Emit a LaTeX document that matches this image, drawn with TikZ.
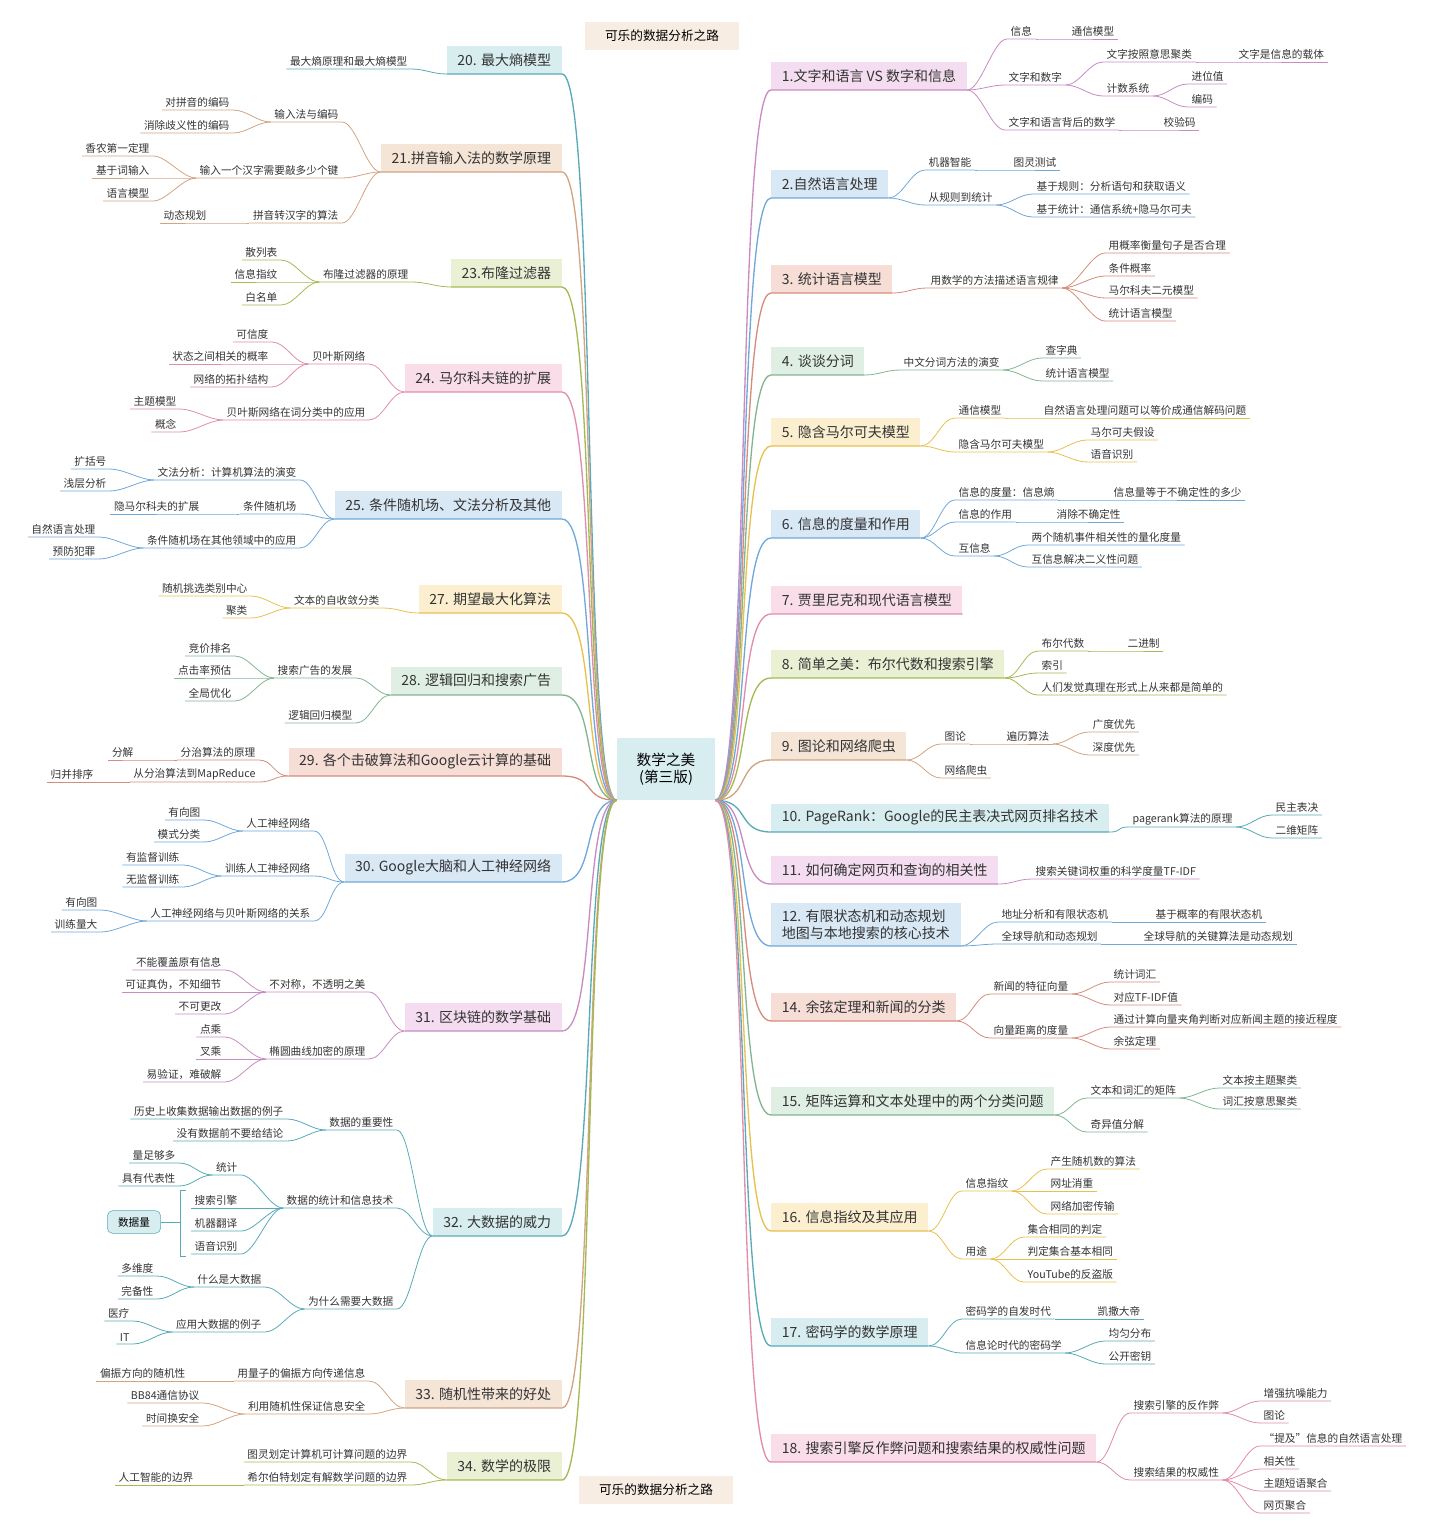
\documentclass[tikz,border=0pt]{standalone}
\usepackage{fontspec}
\setmainfont{Noto Sans CJK SC}
\definecolor{pkL}{HTML}{C98BC2}\definecolor{pkF}{HTML}{F4DDF0}
\definecolor{blL}{HTML}{6FA8D9}\definecolor{blF}{HTML}{D9E8F5}
\definecolor{saL}{HTML}{D58C7C}\definecolor{saF}{HTML}{F6DDD6}
\definecolor{grL}{HTML}{82B592}\definecolor{grF}{HTML}{E0EFE4}
\definecolor{yeL}{HTML}{E8C04E}\definecolor{yeF}{HTML}{FCEFD0}
\definecolor{piL}{HTML}{E08CAD}\definecolor{piF}{HTML}{F9DDE8}
\definecolor{olL}{HTML}{A3BA52}\definecolor{olF}{HTML}{E9F0D4}
\definecolor{taL}{HTML}{D2A482}\definecolor{taF}{HTML}{F4E5D7}
\definecolor{teL}{HTML}{58AAB9}\definecolor{teF}{HTML}{D7EDF0}

\tikzstyle{leaf} = [inner xsep=2.5pt, inner ysep=1.5pt, text=black!80
                   , font=\fontsize{8}{9}\selectfont]
\tikzstyle{lr}   = [leaf, anchor=south west]
\tikzstyle{ll}   = [leaf, anchor=south east]
\tikzstyle{chap} = [inner xsep=8pt, minimum height=21pt, text=black!80
                   , font=\fontsize{10.5}{12.5}\selectfont]
\tikzstyle{chr}  = [chap, anchor=south west]
\tikzstyle{chl}  = [chap, anchor=south east]
\tikzstyle{con}  = [line width=0.6pt]

\newcommand\cR[3]{\draw[con,#3] (#1.south east) .. controls +(14,0) and +(-14,0) .. (#2.south west) -- (#2.south east);}
\newcommand\cL[3]{\draw[con,#3] (#1.south west) .. controls +(-14,0) and +(14,0) .. (#2.south east) -- (#2.south west);}
\newcommand\mR[2]{\draw[line width=1pt,#2] (Root.south east) .. controls +(35,0) and +(-35,0) .. (#1.south west) -- (#1.south east);}
\newcommand\mL[2]{\draw[line width=1pt,#2] (Root.south west) .. controls +(-35,0) and +(35,0) .. (#1.south east) -- (#1.south west);}

\begin{document}
\begin{tikzpicture}[x=0.75pt, y=-0.75pt]
\useasboundingbox (0,0) rectangle (1440,1531);

%% Root and titles
\node [fill=teF, minimum width=73.5pt, minimum height=46.5pt, align=center
      , font=\fontsize{11}{13}\selectfont] (Root) at (666,769) {数学之美\\(第三版)};
\node [fill=taF!70, minimum width=116pt, minimum height=21pt, font=\fontsize{9.5}{11}\selectfont] (Title-Top) at (662,36) {可乐的数据分析之路};
\node [fill=taF!70, minimum width=116pt, minimum height=21pt, font=\fontsize{9.5}{11}\selectfont] (Title-Bot) at (656,1490) {可乐的数据分析之路};

%% Right side chapters
\node [chr, fill=pkF] (Ch1) at (771,90) {1.文字和语言 VS 数字和信息};
\node [chr, fill=blF] (Ch2) at (771,198) {2.自然语言处理};
\node [chr, fill=saF] (Ch3) at (771,293) {3. 统计语言模型};
\node [chr, fill=grF] (Ch4) at (771,375) {4. 谈谈分词};
\node [chr, fill=yeF] (Ch5) at (771,446) {5. 隐含马尔可夫模型};
\node [chr, fill=blF] (Ch6) at (771,538) {6. 信息的度量和作用};
\node [chr, fill=piF] (Ch7) at (771,614) {7. 贾里尼克和现代语言模型};
\node [chr, fill=olF] (Ch8) at (771,678) {8. 简单之美：布尔代数和搜索引擎};
\node [chr, fill=taF] (Ch9) at (771,760) {9. 图论和网络爬虫};
\node [chr, fill=teF] (Ch10) at (771,832) {10. PageRank：Google的民主表决式网页排名技术};
\node [chr, fill=pkF] (Ch11) at (771,884) {11. 如何确定网页和查询的相关性};
\node [chr, fill=blF, align=left, minimum height=32pt] (Ch12) at (771,946) {12. 有限状态机和动态规划\\地图与本地搜索的核心技术};
\node [chr, fill=saF] (Ch14) at (771,1021) {14. 余弦定理和新闻的分类};
\node [chr, fill=grF] (Ch15) at (771,1115) {15. 矩阵运算和文本处理中的两个分类问题};
\node [chr, fill=yeF] (Ch16) at (771,1231) {16. 信息指纹及其应用};
\node [chr, fill=teF] (Ch17) at (771,1346) {17. 密码学的数学原理};
\node [chr, fill=piF] (Ch18) at (771,1462) {18. 搜索引擎反作弊问题和搜索结果的权威性问题};

%% Left side chapters
\node [chl, fill=teF] (Ch20) at (562,74) {20. 最大熵模型};
\node [chl, fill=taF] (Ch21) at (562,172) {21.拼音输入法的数学原理};
\node [chl, fill=olF] (Ch23) at (562,287) {23.布隆过滤器};
\node [chl, fill=piF] (Ch24) at (562,392) {24. 马尔科夫链的扩展};
\node [chl, fill=blF] (Ch25) at (562,519) {25. 条件随机场、文法分析及其他};
\node [chl, fill=yeF] (Ch27) at (562,613) {27. 期望最大化算法};
\node [chl, fill=grF] (Ch28) at (562,695) {28. 逻辑回归和搜索广告};
\node [chl, fill=saF] (Ch29) at (562,776) {29. 各个击破算法和Google云计算的基础};
\node [chl, fill=blF] (Ch30) at (562,882) {30. Google大脑和人工神经网络};
\node [chl, fill=pkF] (Ch31) at (562,1031) {31. 区块链的数学基础};
\node [chl, fill=teF] (Ch32) at (562,1236) {32. 大数据的威力};
\node [chl, fill=taF] (Ch33) at (562,1408) {33. 随机性带来的好处};
\node [chl, fill=olF] (Ch34) at (562,1480) {34. 数学的极限};

\mR{Ch1}{pkL} \mR{Ch2}{blL} \mR{Ch3}{saL} \mR{Ch4}{grL} \mR{Ch5}{yeL}
\mR{Ch6}{blL} \mR{Ch7}{piL} \mR{Ch8}{olL} \mR{Ch9}{taL} \mR{Ch10}{teL}
\mR{Ch11}{pkL} \mR{Ch12}{blL} \mR{Ch14}{saL} \mR{Ch15}{grL} \mR{Ch16}{yeL}
\mR{Ch17}{teL} \mR{Ch18}{piL}
\mL{Ch20}{teL} \mL{Ch21}{taL} \mL{Ch23}{olL} \mL{Ch24}{piL} \mL{Ch25}{blL}
\mL{Ch27}{yeL} \mL{Ch28}{grL} \mL{Ch29}{saL} \mL{Ch30}{blL} \mL{Ch31}{pkL}
\mL{Ch32}{teL} \mL{Ch33}{taL} \mL{Ch34}{olL}

%% Ch1
\node [lr] (Ch1-A) at (1007,39) {信息};
\node [lr] (Ch1-A1) at (1068,39) {通信模型};
\node [lr] (Ch1-B) at (1005,85) {文字和数字};
\node [lr] (Ch1-B1) at (1103,62) {文字按照意思聚类};
\node [lr] (Ch1-B1a) at (1235,62) {文字是信息的载体};
\node [lr] (Ch1-B2) at (1103,96) {计数系统};
\node [lr] (Ch1-B2a) at (1188,84) {进位值};
\node [lr] (Ch1-B2b) at (1188,107) {编码};
\node [lr] (Ch1-C) at (1005,130) {文字和语言背后的数学};
\node [lr] (Ch1-C1) at (1160,130) {校验码};
\cR{Ch1}{Ch1-A}{pkL} \cR{Ch1-A}{Ch1-A1}{pkL} \cR{Ch1}{Ch1-B}{pkL}
\cR{Ch1-B}{Ch1-B1}{pkL} \cR{Ch1-B1}{Ch1-B1a}{pkL} \cR{Ch1-B}{Ch1-B2}{pkL}
\cR{Ch1-B2}{Ch1-B2a}{pkL} \cR{Ch1-B2}{Ch1-B2b}{pkL} \cR{Ch1}{Ch1-C}{pkL}
\cR{Ch1-C}{Ch1-C1}{pkL}

%% Ch2
\node [lr] (Ch2-A) at (925,170) {机器智能};
\node [lr] (Ch2-A1) at (1010,170) {图灵测试};
\node [lr] (Ch2-B) at (925,205) {从规则到统计};
\node [lr] (Ch2-B1) at (1033,194) {基于规则：分析语句和获取语义};
\node [lr] (Ch2-B2) at (1033,217) {基于统计：通信系统+隐马尔可夫};
\cR{Ch2}{Ch2-A}{blL} \cR{Ch2-A}{Ch2-A1}{blL} \cR{Ch2}{Ch2-B}{blL}
\cR{Ch2-B}{Ch2-B1}{blL} \cR{Ch2-B}{Ch2-B2}{blL}

%% Ch3
\node [lr] (Ch3-A) at (927,288) {用数学的方法描述语言规律};
\node [lr] (Ch3-A1) at (1105,253) {用概率衡量句子是否合理};
\node [lr] (Ch3-A2) at (1105,276) {条件概率};
\node [lr] (Ch3-A3) at (1105,298) {马尔科夫二元模型};
\node [lr] (Ch3-A4) at (1105,321) {统计语言模型};
\cR{Ch3}{Ch3-A}{saL} \cR{Ch3-A}{Ch3-A1}{saL} \cR{Ch3-A}{Ch3-A2}{saL}
\cR{Ch3-A}{Ch3-A3}{saL} \cR{Ch3-A}{Ch3-A4}{saL}

%% Ch4
\node [lr] (Ch4-A) at (900,370) {中文分词方法的演变};
\node [lr] (Ch4-A1) at (1042,358) {查字典};
\node [lr] (Ch4-A2) at (1042,381) {统计语言模型};
\cR{Ch4}{Ch4-A}{grL} \cR{Ch4-A}{Ch4-A1}{grL} \cR{Ch4-A}{Ch4-A2}{grL}

%% Ch5
\node [lr] (Ch5-A) at (955,418) {通信模型};
\node [lr] (Ch5-A1) at (1040,418) {自然语言处理问题可以等价成通信解码问题};
\node [lr] (Ch5-B) at (955,452) {隐含马尔可夫模型};
\node [lr] (Ch5-B1) at (1087,440) {马尔可夫假设};
\node [lr] (Ch5-B2) at (1087,462) {语音识别};
\cR{Ch5}{Ch5-A}{yeL} \cR{Ch5-A}{Ch5-A1}{yeL} \cR{Ch5}{Ch5-B}{yeL}
\cR{Ch5-B}{Ch5-B1}{yeL} \cR{Ch5-B}{Ch5-B2}{yeL}

%% Ch6
\node [lr] (Ch6-A) at (955,500) {信息的度量：信息熵};
\node [lr] (Ch6-A1) at (1110,500) {信息量等于不确定性的多少};
\node [lr] (Ch6-B) at (955,522) {信息的作用};
\node [lr] (Ch6-B1) at (1053,522) {消除不确定性};
\node [lr] (Ch6-C) at (955,556) {互信息};
\node [lr] (Ch6-C1) at (1028,545) {两个随机事件相关性的量化度量};
\node [lr] (Ch6-C2) at (1028,567) {互信息解决二义性问题};
\cR{Ch6}{Ch6-A}{blL} \cR{Ch6-A}{Ch6-A1}{blL} \cR{Ch6}{Ch6-B}{blL}
\cR{Ch6-B}{Ch6-B1}{blL} \cR{Ch6}{Ch6-C}{blL} \cR{Ch6-C}{Ch6-C1}{blL}
\cR{Ch6-C}{Ch6-C2}{blL}

%% Ch8
\node [lr] (Ch8-A) at (1038,651) {布尔代数};
\node [lr] (Ch8-A1) at (1124,651) {二进制};
\node [lr] (Ch8-B) at (1038,673) {索引};
\node [lr] (Ch8-C) at (1038,695) {人们发觉真理在形式上从来都是简单的};
\cR{Ch8}{Ch8-A}{olL} \cR{Ch8-A}{Ch8-A1}{olL} \cR{Ch8}{Ch8-B}{olL}
\cR{Ch8}{Ch8-C}{olL}

%% Ch9
\node [lr] (Ch9-A) at (941,744) {图论};
\node [lr] (Ch9-A1) at (1003,744) {遍历算法};
\node [lr] (Ch9-A1a) at (1089,732) {广度优先};
\node [lr] (Ch9-A1b) at (1089,755) {深度优先};
\node [lr] (Ch9-B) at (941,778) {网络爬虫};
\cR{Ch9}{Ch9-A}{taL} \cR{Ch9-A}{Ch9-A1}{taL} \cR{Ch9-A1}{Ch9-A1a}{taL}
\cR{Ch9-A1}{Ch9-A1b}{taL} \cR{Ch9}{Ch9-B}{taL}

%% Ch10
\node [lr] (Ch10-A) at (1129,827) {pagerank算法的原理};
\node [lr] (Ch10-A1) at (1272,815) {民主表决};
\node [lr] (Ch10-A2) at (1272,838) {二维矩阵};
\cR{Ch10}{Ch10-A}{teL} \cR{Ch10-A}{Ch10-A1}{teL} \cR{Ch10-A}{Ch10-A2}{teL}

%% Ch11
\node [lr] (Ch11-A) at (1032,879) {搜索关键词权重的科学度量TF-IDF};
\cR{Ch11}{Ch11-A}{pkL}

%% Ch12
\node [lr] (Ch12-A) at (998,922) {地址分析和有限状态机};
\node [lr] (Ch12-A1) at (1152,922) {基于概率的有限状态机};
\node [lr] (Ch12-B) at (998,944) {全球导航和动态规划};
\node [lr] (Ch12-B1) at (1140,944) {全球导航的关键算法是动态规划};
\cR{Ch12}{Ch12-A}{blL} \cR{Ch12-A}{Ch12-A1}{blL} \cR{Ch12}{Ch12-B}{blL}
\cR{Ch12-B}{Ch12-B1}{blL}

%% Ch14
\node [lr] (Ch14-A) at (990,994) {新闻的特征向量};
\node [lr] (Ch14-A1) at (1110,982) {统计词汇};
\node [lr] (Ch14-A2) at (1110,1005) {对应TF-IDF值};
\node [lr] (Ch14-B) at (990,1038) {向量距离的度量};
\node [lr] (Ch14-B1) at (1110,1027) {通过计算向量夹角判断对应新闻主题的接近程度};
\node [lr] (Ch14-B2) at (1110,1049) {余弦定理};
\cR{Ch14}{Ch14-A}{saL} \cR{Ch14-A}{Ch14-A1}{saL} \cR{Ch14-A}{Ch14-A2}{saL}
\cR{Ch14}{Ch14-B}{saL} \cR{Ch14-B}{Ch14-B1}{saL} \cR{Ch14-B}{Ch14-B2}{saL}

%% Ch15
\node [lr] (Ch15-A) at (1087,1098) {文本和词汇的矩阵};
\node [lr] (Ch15-A1) at (1219,1088) {文本按主题聚类};
\node [lr] (Ch15-A2) at (1219,1109) {词汇按意思聚类};
\node [lr] (Ch15-B) at (1087,1132) {奇异值分解};
\cR{Ch15}{Ch15-A}{grL} \cR{Ch15-A}{Ch15-A1}{grL} \cR{Ch15-A}{Ch15-A2}{grL}
\cR{Ch15}{Ch15-B}{grL}

%% Ch16
\node [lr] (Ch16-A) at (962,1191) {信息指纹};
\node [lr] (Ch16-A1) at (1047,1169) {产生随机数的算法};
\node [lr] (Ch16-A2) at (1047,1191) {网址消重};
\node [lr] (Ch16-A3) at (1047,1214) {网络加密传输};
\node [lr] (Ch16-B) at (962,1259) {用途};
\node [lr] (Ch16-B1) at (1024,1237) {集合相同的判定};
\node [lr] (Ch16-B2) at (1024,1259) {判定集合基本相同};
\node [lr] (Ch16-B3) at (1024,1282) {YouTube的反盗版};
\cR{Ch16}{Ch16-A}{yeL} \cR{Ch16-A}{Ch16-A1}{yeL} \cR{Ch16-A}{Ch16-A2}{yeL}
\cR{Ch16-A}{Ch16-A3}{yeL} \cR{Ch16}{Ch16-B}{yeL} \cR{Ch16-B}{Ch16-B1}{yeL}
\cR{Ch16-B}{Ch16-B2}{yeL} \cR{Ch16-B}{Ch16-B3}{yeL}

%% Ch17
\node [lr] (Ch17-A) at (962,1319) {密码学的自发时代};
\node [lr] (Ch17-A1) at (1094,1319) {凯撒大帝};
\node [lr] (Ch17-B) at (962,1353) {信息论时代的密码学};
\node [lr] (Ch17-B1) at (1105,1341) {均匀分布};
\node [lr] (Ch17-B2) at (1105,1364) {公开密钥};
\cR{Ch17}{Ch17-A}{teL} \cR{Ch17-A}{Ch17-A1}{teL} \cR{Ch17}{Ch17-B}{teL}
\cR{Ch17-B}{Ch17-B1}{teL} \cR{Ch17-B}{Ch17-B2}{teL}

%% Ch18
\node [lr] (Ch18-A) at (1130,1413) {搜索引擎的反作弊};
\node [lr] (Ch18-A1) at (1260,1401) {增强抗噪能力};
\node [lr] (Ch18-A2) at (1260,1423) {图论};
\node [lr] (Ch18-B) at (1130,1480) {搜索结果的权威性};
\node [lr] (Ch18-B1) at (1260,1446) {“提及”信息的自然语言处理};
\node [lr] (Ch18-B2) at (1260,1469) {相关性};
\node [lr] (Ch18-B3) at (1260,1491) {主题短语聚合};
\node [lr] (Ch18-B4) at (1260,1513) {网页聚合};
\cR{Ch18}{Ch18-A}{piL} \cR{Ch18-A}{Ch18-A1}{piL} \cR{Ch18-A}{Ch18-A2}{piL}
\cR{Ch18}{Ch18-B}{piL} \cR{Ch18-B}{Ch18-B1}{piL} \cR{Ch18-B}{Ch18-B2}{piL}
\cR{Ch18-B}{Ch18-B3}{piL} \cR{Ch18-B}{Ch18-B4}{piL}

%% Ch20
\node [ll] (Ch20-A) at (411,69) {最大熵原理和最大熵模型};
\cL{Ch20}{Ch20-A}{teL}

%% Ch21
\node [ll] (Ch21-A) at (342,122) {输入法与编码};
\node [ll] (Ch21-A1) at (233,110) {对拼音的编码};
\node [ll] (Ch21-A2) at (233,133) {消除歧义性的编码};
\node [ll] (Ch21-B) at (342,178) {输入一个汉字需要敲多少个键};
\node [ll] (Ch21-B1) at (153,156) {香农第一定理};
\node [ll] (Ch21-B2) at (153,178) {基于词输入};
\node [ll] (Ch21-B3) at (153,201) {语言模型};
\node [ll] (Ch21-C) at (342,223) {拼音转汉字的算法};
\node [ll] (Ch21-C1) at (210,223) {动态规划};
\cL{Ch21}{Ch21-A}{taL} \cL{Ch21-A}{Ch21-A1}{taL} \cL{Ch21-A}{Ch21-A2}{taL}
\cL{Ch21}{Ch21-B}{taL} \cL{Ch21-B}{Ch21-B1}{taL} \cL{Ch21-B}{Ch21-B2}{taL}
\cL{Ch21-B}{Ch21-B3}{taL} \cL{Ch21}{Ch21-C}{taL} \cL{Ch21-C}{Ch21-C1}{taL}

%% Ch23
\node [ll] (Ch23-A) at (412,282) {布隆过滤器的原理};
\node [ll] (Ch23-A1) at (281,260) {散列表};
\node [ll] (Ch23-A2) at (281,282) {信息指纹};
\node [ll] (Ch23-A3) at (281,305) {白名单};
\cL{Ch23}{Ch23-A}{olL} \cL{Ch23-A}{Ch23-A1}{olL} \cL{Ch23-A}{Ch23-A2}{olL}
\cL{Ch23-A}{Ch23-A3}{olL}

%% Ch24
\node [ll] (Ch24-A) at (369,364) {贝叶斯网络};
\node [ll] (Ch24-A1) at (272,342) {可信度};
\node [ll] (Ch24-A2) at (272,364) {状态之间相关的概率};
\node [ll] (Ch24-A3) at (272,387) {网络的拓扑结构};
\node [ll] (Ch24-B) at (369,420) {贝叶斯网络在词分类中的应用};
\node [ll] (Ch24-B1) at (180,409) {主题模型};
\node [ll] (Ch24-B2) at (180,432) {概念};
\cL{Ch24}{Ch24-A}{piL} \cL{Ch24-A}{Ch24-A1}{piL} \cL{Ch24-A}{Ch24-A2}{piL}
\cL{Ch24-A}{Ch24-A3}{piL} \cL{Ch24}{Ch24-B}{piL} \cL{Ch24-B}{Ch24-B1}{piL}
\cL{Ch24-B}{Ch24-B2}{piL}

%% Ch25
\node [ll] (Ch25-A) at (300,480) {文法分析：计算机算法的演变};
\node [ll] (Ch25-A1) at (110,469) {扩括号};
\node [ll] (Ch25-A2) at (110,491) {浅层分析};
\node [ll] (Ch25-B) at (300,514) {条件随机场};
\node [ll] (Ch25-B1) at (203,514) {隐马尔科夫的扩展};
\node [ll] (Ch25-C) at (300,548) {条件随机场在其他领域中的应用};
\node [ll] (Ch25-C1) at (99,537) {自然语言处理};
\node [ll] (Ch25-C2) at (99,559) {预防犯罪};
\cL{Ch25}{Ch25-A}{blL} \cL{Ch25-A}{Ch25-A1}{blL} \cL{Ch25-A}{Ch25-A2}{blL}
\cL{Ch25}{Ch25-B}{blL} \cL{Ch25-B}{Ch25-B1}{blL} \cL{Ch25}{Ch25-C}{blL}
\cL{Ch25-C}{Ch25-C1}{blL} \cL{Ch25-C}{Ch25-C2}{blL}

%% Ch27
\node [ll] (Ch27-A) at (383,608) {文本的自收敛分类};
\node [ll] (Ch27-A1) at (251,596) {随机挑选类别中心};
\node [ll] (Ch27-A2) at (251,618) {聚类};
\cL{Ch27}{Ch27-A}{yeL} \cL{Ch27-A}{Ch27-A1}{yeL} \cL{Ch27-A}{Ch27-A2}{yeL}

%% Ch28
\node [ll] (Ch28-A) at (356,678) {搜索广告的发展};
\node [ll] (Ch28-A1) at (235,656) {竞价排名};
\node [ll] (Ch28-A2) at (235,678) {点击率预估};
\node [ll] (Ch28-A3) at (235,701) {全局优化};
\node [ll] (Ch28-B) at (356,723) {逻辑回归模型};
\cL{Ch28}{Ch28-A}{grL} \cL{Ch28-A}{Ch28-A1}{grL} \cL{Ch28-A}{Ch28-A2}{grL}
\cL{Ch28-A}{Ch28-A3}{grL} \cL{Ch28}{Ch28-B}{grL}

%% Ch29
\node [ll] (Ch29-A) at (259,760) {分治算法的原理};
\node [ll] (Ch29-A1) at (137,760) {分解};
\node [ll] (Ch29-B) at (259,782) {从分治算法到MapReduce};
\node [ll] (Ch29-B1) at (97,782) {归并排序};
\cL{Ch29}{Ch29-A}{saL} \cL{Ch29-A}{Ch29-A1}{saL} \cL{Ch29}{Ch29-B}{saL}
\cL{Ch29-B}{Ch29-B1}{saL}

%% Ch30
\node [ll] (Ch30-A) at (314,831) {人工神经网络};
\node [ll] (Ch30-A1) at (204,820) {有向图};
\node [ll] (Ch30-A2) at (204,842) {模式分类};
\node [ll] (Ch30-B) at (314,876) {训练人工神经网络};
\node [ll] (Ch30-B1) at (183,865) {有监督训练};
\node [ll] (Ch30-B2) at (183,887) {无监督训练};
\node [ll] (Ch30-C) at (314,921) {人工神经网络与贝叶斯网络的关系};
\node [ll] (Ch30-C1) at (101,910) {有向图};
\node [ll] (Ch30-C2) at (101,932) {训练量大};
\cL{Ch30}{Ch30-A}{blL} \cL{Ch30-A}{Ch30-A1}{blL} \cL{Ch30-A}{Ch30-A2}{blL}
\cL{Ch30}{Ch30-B}{blL} \cL{Ch30-B}{Ch30-B1}{blL} \cL{Ch30-B}{Ch30-B2}{blL}
\cL{Ch30}{Ch30-C}{blL} \cL{Ch30-C}{Ch30-C1}{blL} \cL{Ch30-C}{Ch30-C2}{blL}

%% Ch31
\node [ll] (Ch31-A) at (369,992) {不对称，不透明之美};
\node [ll] (Ch31-A1) at (225,970) {不能覆盖原有信息};
\node [ll] (Ch31-A2) at (225,992) {可证真伪，不知细节};
\node [ll] (Ch31-A3) at (225,1014) {不可更改};
\node [ll] (Ch31-B) at (369,1059) {椭圆曲线加密的原理};
\node [ll] (Ch31-B1) at (225,1037) {点乘};
\node [ll] (Ch31-B2) at (225,1059) {叉乘};
\node [ll] (Ch31-B3) at (225,1082) {易验证，难破解};
\cL{Ch31}{Ch31-A}{pkL} \cL{Ch31-A}{Ch31-A1}{pkL} \cL{Ch31-A}{Ch31-A2}{pkL}
\cL{Ch31-A}{Ch31-A3}{pkL} \cL{Ch31}{Ch31-B}{pkL} \cL{Ch31-B}{Ch31-B1}{pkL}
\cL{Ch31-B}{Ch31-B2}{pkL} \cL{Ch31-B}{Ch31-B3}{pkL}

%% Ch32
\node [ll] (Ch32-A) at (397,1130) {数据的重要性};
\node [ll] (Ch32-A1) at (287,1119) {历史上收集数据输出数据的例子};
\node [ll] (Ch32-A2) at (287,1141) {没有数据前不要给结论};
\node [ll] (Ch32-B) at (397,1208) {数据的统计和信息技术};
\node [ll] (Ch32-B1) at (241,1175) {统计};
\node [ll] (Ch32-B1a) at (179,1163) {量足够多};
\node [ll] (Ch32-B1b) at (179,1186) {具有代表性};
\node [ll] (Ch32-B2) at (241,1208) {搜索引擎};
\node [ll] (Ch32-B3) at (241,1231) {机器翻译};
\node [ll] (Ch32-B4) at (241,1254) {语音识别};
\node [ll] (Ch32-C) at (397,1309) {为什么需要大数据};
\node [ll] (Ch32-C1) at (265,1287) {什么是大数据};
\node [ll] (Ch32-C1a) at (157,1276) {多维度};
\node [ll] (Ch32-C1b) at (157,1299) {完备性};
\node [ll] (Ch32-C2) at (265,1332) {应用大数据的例子};
\node [ll] (Ch32-C2a) at (133,1321) {医疗};
\node [ll] (Ch32-C2b) at (133,1344) {IT};
\cL{Ch32}{Ch32-A}{teL} \cL{Ch32-A}{Ch32-A1}{teL} \cL{Ch32-A}{Ch32-A2}{teL}
\cL{Ch32}{Ch32-B}{teL} \cL{Ch32-B}{Ch32-B1}{teL} \cL{Ch32-B1}{Ch32-B1a}{teL}
\cL{Ch32-B1}{Ch32-B1b}{teL} \cL{Ch32-B}{Ch32-B2}{teL} \cL{Ch32-B}{Ch32-B3}{teL}
\cL{Ch32-B}{Ch32-B4}{teL} \cL{Ch32}{Ch32-C}{teL} \cL{Ch32-C}{Ch32-C1}{teL}
\cL{Ch32-C1}{Ch32-C1a}{teL} \cL{Ch32-C1}{Ch32-C1b}{teL} \cL{Ch32-C}{Ch32-C2}{teL}
\cL{Ch32-C2}{Ch32-C2a}{teL} \cL{Ch32-C2}{Ch32-C2b}{teL}
%% summary bracket
\node [draw=teL, fill=teF, rounded corners=4pt, minimum width=40pt, minimum height=17pt
      , font=\fontsize{8}{9}\selectfont] (Ch32-Sum) at (134,1222) {数据量};
\draw [con, teL] (186,1190) -- (180,1190) -- (180,1256) -- (186,1256);
\draw [con, teL] (180,1222) -- (Ch32-Sum.east);

%% Ch33
\node [ll] (Ch33-A) at (369,1381) {用量子的偏振方向传递信息};
\node [ll] (Ch33-A1) at (189,1381) {偏振方向的随机性};
\node [ll] (Ch33-B) at (369,1414) {利用随机性保证信息安全};
\node [ll] (Ch33-B1) at (203,1403) {BB84通信协议};
\node [ll] (Ch33-B2) at (203,1426) {时间换安全};
\cL{Ch33}{Ch33-A}{taL} \cL{Ch33-A}{Ch33-A1}{taL} \cL{Ch33}{Ch33-B}{taL}
\cL{Ch33-B}{Ch33-B1}{taL} \cL{Ch33-B}{Ch33-B2}{taL}

%% Ch34
\node [ll] (Ch34-A) at (411,1462) {图灵划定计算机可计算问题的边界};
\node [ll] (Ch34-B) at (411,1485) {希尔伯特划定有解数学问题的边界};
\node [ll] (Ch34-B1) at (197,1485) {人工智能的边界};
\cL{Ch34}{Ch34-A}{olL} \cL{Ch34}{Ch34-B}{olL} \cL{Ch34-B}{Ch34-B1}{olL}

\end{tikzpicture}
\end{document}
